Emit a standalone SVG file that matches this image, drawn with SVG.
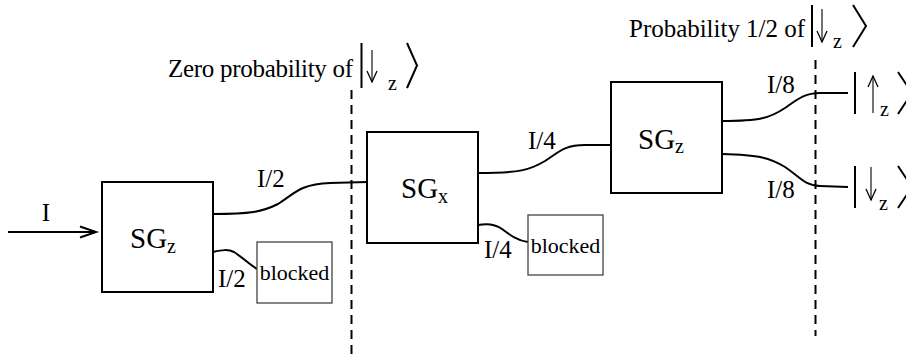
<svg xmlns="http://www.w3.org/2000/svg" width="906" height="363" viewBox="0 0 906 363">
  <style>
    text { font-family: "Liberation Serif", "DejaVu Serif", serif; fill: #000; }
    .box { fill: #fff; stroke: #000; stroke-width: 2; }
    .blk { fill: #fff; stroke: #444; stroke-width: 1.3; }
    .wire { fill: none; stroke: #000; stroke-width: 2; }
    .dash { fill: none; stroke: #000; stroke-width: 2; stroke-dasharray: 9 6; }
    .bar { fill: none; stroke: #000; stroke-width: 2; }
    .spin { fill: none; stroke: #000; stroke-width: 1.1; }
    .sg { font-size: 29px; }
    .sub { font-size: 20px; }
    .lbl { font-size: 25px; }
    .bk { font-size: 22px; }
    .note { font-size: 25px; }
  </style>
  <defs>
    <marker id="open" viewBox="0 0 12 12" refX="11" refY="6" markerWidth="16" markerHeight="12" markerUnits="userSpaceOnUse" orient="auto">
      <path d="M0,1 L11,6 L0,11" fill="none" stroke="#000" stroke-width="1.3"/>
    </marker>
  </defs>

  <!-- measurement planes -->
  <g id="planes">
    <line class="dash" x1="351.5" y1="90" x2="351.5" y2="358"/>
    <line class="dash" x1="815.5" y1="60" x2="815.5" y2="336"/>
  </g>

  <!-- beam paths -->
  <g id="connectors">
    <line class="wire" x1="8" y1="232" x2="95" y2="232" stroke-width="1.6"/>
    <path class="wire" d="M80,226.5 L96,232 L80,237.5" stroke-width="1.4"/>
    <path class="wire" d="M213,214 C250,214 262,212 278,204 C294,194 300,184 330,183 L367,182"/>
    <path class="wire" d="M213,252 C222,250 228,249 234,252 C242,257 250,265 257,269"/>
    <path class="wire" d="M478,173 C520,173 530,170 545,161 C560,151 565,145 585,145 L611,145"/>
    <path class="wire" d="M478,225 C488,223 495,224 502,229 C510,235 518,241 528,242"/>
    <path class="wire" d="M722,121 C760,121 770,118 785,108 C798,99 805,93 820,93 L848,93"/>
    <path class="wire" d="M722,154 C760,155 770,158 785,167 C800,177 805,186 820,186 L848,187"/>
  </g>

  <!-- beam labels -->
  <g id="labels">
    <text class="note" x="46" y="221" text-anchor="middle">I</text>
    <text class="lbl" x="257" y="187">I/2</text>
    <text class="lbl" x="218" y="287">I/2</text>
    <text class="lbl" x="528" y="149">I/4</text>
    <text class="lbl" x="484" y="258">I/4</text>
    <text class="lbl" x="767" y="93">I/8</text>
    <text class="lbl" x="767" y="198">I/8</text>
  </g>

  <!-- Stern-Gerlach analysers -->
  <g id="sg1">
    <rect class="box" x="102" y="182" width="111" height="110"/>
    <text class="sg" x="130" y="248">SG<tspan class="sub" dy="5">z</tspan></text>
  </g>
  <g id="block1">
    <rect class="blk" x="257" y="242" width="75" height="61"/>
    <text class="bk" x="294.5" y="280" text-anchor="middle">blocked</text>
  </g>
  <g id="sg2">
    <rect class="box" x="367" y="132" width="111" height="111"/>
    <text class="sg" x="401" y="198">SG<tspan class="sub" dy="5">x</tspan></text>
  </g>
  <g id="block2">
    <rect class="blk" x="528" y="215" width="75" height="60"/>
    <text class="bk" x="565.5" y="253" text-anchor="middle">blocked</text>
  </g>
  <g id="sg3">
    <rect class="box" x="611" y="82" width="111" height="111"/>
    <text class="sg" x="638" y="149">SG<tspan class="sub" dy="4">z</tspan></text>
  </g>

  <!-- state notes -->
  <g id="note-zero">
    <text class="note" x="168" y="77" textLength="185">Zero probability of</text>
    <line class="bar" x1="361.5" y1="43" x2="361.5" y2="88"/>
    <line class="spin" x1="372" y1="50" x2="372" y2="82" marker-end="url(#open)"/>
    <text class="sub" x="388" y="90">z</text>
    <path class="bar" d="M407,43 L417,65.5 L407,88"/>
  </g>
  <g id="note-half">
    <text class="note" x="629" y="37" textLength="176">Probability 1/2 of</text>
    <line class="bar" x1="812" y1="5" x2="812" y2="47"/>
    <line class="spin" x1="822" y1="9" x2="822" y2="42" marker-end="url(#open)"/>
    <text class="sub" x="833" y="48">z</text>
    <path class="bar" d="M853,5 L866,26 L853,47"/>
  </g>

  <!-- output states -->
  <g id="ket-up">
    <line class="bar" x1="855" y1="72" x2="855" y2="114"/>
    <line class="spin" x1="873" y1="113" x2="873" y2="76" marker-end="url(#open)"/>
    <text class="sub" x="880" y="116">z</text>
    <path class="bar" d="M898,72 L912,93 L898,114"/>
  </g>
  <g id="ket-down">
    <line class="bar" x1="855" y1="166" x2="855" y2="208"/>
    <line class="spin" x1="871" y1="167" x2="871" y2="200" marker-end="url(#open)"/>
    <text class="sub" x="879" y="210">z</text>
    <path class="bar" d="M898,166 L912,187 L898,208"/>
  </g>
</svg>
